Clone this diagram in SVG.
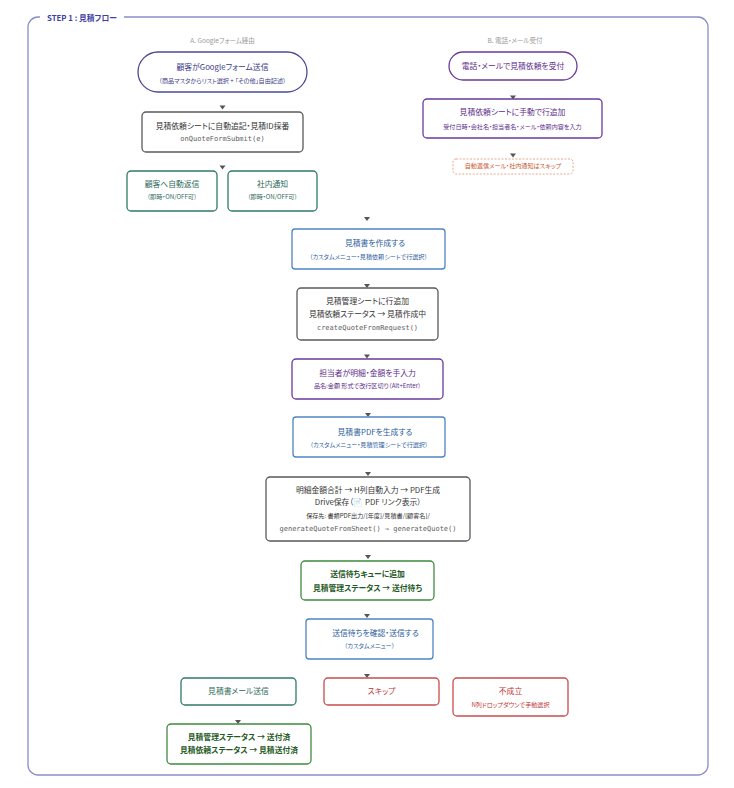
<svg xmlns="http://www.w3.org/2000/svg" width="734" height="788" viewBox="0 0 734 788">
<style>
text{font-family:"Noto Sans CJK JP","Noto Sans",sans-serif;text-anchor:middle;font-feature-settings:"palt"}
.m{font-size:7.8px}
.s{font-size:6.1px}
.mono{font-family:"DejaVu Sans Mono","Liberation Mono",monospace;font-size:7px;fill:#5e5e5e;font-feature-settings:normal}
.lbl{font-size:6.5px;fill:#9a9a9a}
.b{stroke-width:1.3;fill:#fff}
.indigo{stroke:#4b4b96}.indigoT{fill:#3b3b88}
.gray{stroke:#5a5a5a}.grayT{fill:#333}
.teal{stroke:#2f7a68}.tealT{fill:#2c6a5a}
.purple{stroke:#6b3a9c}.purpleT{fill:#5b2d8c}
.blue{stroke:#4f84c4}.blueT{fill:#2d5d9d}
.green{stroke:#3f8a3f}.greenT{fill:#1f5a1f;font-weight:bold}
.red{stroke:#c94c4c}.redT{fill:#c03434}
.orange{stroke:#e3a183;stroke-dasharray:2 1.5;stroke-width:0.9}.orangeT{fill:#c8552a}
.arr{fill:#555}
</style>
<rect x="28" y="17" width="680" height="758" rx="10" fill="#fff" stroke="#8a8ec8" stroke-width="1.3"/>
<rect x="40" y="12" width="84" height="10" fill="#fff"/>
<text x="47" y="20.5" style="text-anchor:start;font-size:7.8px;font-weight:bold;fill:#3f3f9f">STEP 1 : 見積フロー</text>
<text class="lbl" x="222.5" y="42.5">A. Googleフォーム経由</text>
<text class="lbl" x="515" y="42.5">B. 電話・メール受付</text>

<g id="connectors">
<polygon class="arr" points="219.5,105.5 225.5,105.5 222.5,109.5"/>
<polygon class="arr" points="219.5,165.5 225.5,165.5 222.5,169.5"/>
<polygon class="arr" points="510,95.5 516,95.5 513,99.5"/>
<polygon class="arr" points="510,153.5 516,153.5 513,157.5"/>
<polygon class="arr" points="364,217 370,217 367,221"/>
<polygon class="arr" points="364,284 370,284 367,288"/>
<polygon class="arr" points="364,354.5 370,354.5 367,358.5"/>
<polygon class="arr" points="365,413 371,413 368,417"/>
<polygon class="arr" points="365,472 371,472 368,476"/>
<polygon class="arr" points="365,555 371,555 368,559"/>
<polygon class="arr" points="364,614 370,614 367,618"/>
<polygon class="arr" points="364,674 370,674 367,678"/>
<polygon class="arr" points="235,720 241,720 238,724"/>
</g>

<g id="form-submit">
<rect class="b indigo" x="138" y="52" width="169" height="40" rx="20"/>
<text class="m indigoT" x="222.5" y="69.5">顧客がGoogleフォーム送信</text>
<text class="s indigoT" x="222.5" y="82.7">（商品マスタからリスト選択 + 「その他」自由記述）</text>
</g>
<g id="auto-append">
<rect class="b gray" x="142" y="112" width="161" height="40" rx="4"/>
<text class="m grayT" x="222.5" y="128.7">見積依頼シートに自動追記・見積ID採番</text>
<text class="mono" x="222.5" y="140.8">onQuoteFormSubmit(e)</text>
</g>
<g id="auto-reply">
<rect class="b teal" x="127" y="171" width="90" height="40" rx="4"/>
<text class="m tealT" x="172" y="186.7">顧客へ自動返信</text>
<text class="s tealT" x="172" y="199.2">（即時・ON/OFF可）</text>
</g>
<g id="internal-notice">
<rect class="b teal" x="228" y="171" width="89" height="40" rx="4"/>
<text class="m tealT" x="272.5" y="186.7">社内通知</text>
<text class="s tealT" x="272.5" y="199.2">（即時・ON/OFF可）</text>
</g>

<g id="phone-mail">
<rect class="b purple" x="449" y="52" width="128" height="28" rx="14"/>
<text class="m purpleT" x="513" y="68.7">電話・メールで見積依頼を受付</text>
</g>
<g id="manual-add">
<rect class="b purple" x="423" y="99" width="179" height="39" rx="4"/>
<text class="m purpleT" x="512.5" y="115.4">見積依頼シートに手動で行追加</text>
<text class="s purpleT" x="512.5" y="128.7">受付日時・会社名・担当者名・メール・依頼内容を入力</text>
</g>
<g id="skip-notice">
<rect class="orange" fill="#fff" x="453" y="159" width="120" height="15" rx="3"/>
<text class="s orangeT" x="513" y="168">自動返信メール・社内通知はスキップ</text>
</g>

<g id="create-quote">
<rect class="b blue" x="292" y="229" width="153" height="40" rx="3"/>
<text class="m blueT" x="375" y="246">見積書を作成する</text>
<text class="s blueT" x="368.5" y="258.7">（カスタムメニュー・見積依頼シートで行選択）</text>
</g>
<g id="add-row">
<rect class="b gray" x="297" y="288" width="141" height="52" rx="4"/>
<text class="m grayT" x="367.5" y="303.7">見積管理シートに行追加</text>
<text class="m grayT" x="367.5" y="316.7">見積依頼ステータス → 見積作成中</text>
<text class="mono" x="367.5" y="329.8">createQuoteFromRequest()</text>
</g>
<g id="manual-input">
<rect class="b purple" x="292" y="359" width="151" height="40" rx="4"/>
<text class="m purpleT" x="367.5" y="376">担当者が明細・金額を手入力</text>
<text class="s purpleT" x="367.5" y="388.2">品名:金額 形式で改行区切り（Alt+Enter）</text>
</g>
<g id="create-pdf">
<rect class="b blue" x="293" y="417" width="152" height="40" rx="3"/>
<text class="m blueT" x="375" y="435">見積書PDFを生成する</text>
<text class="s blueT" x="369" y="447.2">（カスタムメニュー・見積管理シートで行選択）</text>
</g>
<g id="pdf-process">
<rect class="b gray" x="266" y="477" width="204" height="64" rx="4"/>
<text class="m grayT" x="368" y="493.4">明細金額合計 → H列自動入力 → PDF生成</text>
<text class="m grayT" x="368" y="505">Drive保存（📄 PDF リンク表示）</text>
<text class="s grayT" x="368" y="518.4">保存先: 書類PDF出力/{年度}/見積書/{顧客名}/</text>
<text class="mono" x="368" y="530.8">generateQuoteFromSheet() → generateQuote()</text>
</g>
<g id="queue">
<rect class="b green" x="301" y="561" width="133" height="39" rx="4"/>
<text class="m greenT" x="367.5" y="576.7">送信待ちキューに追加</text>
<text class="m greenT" x="367.5" y="590.7">見積管理ステータス → 送付待ち</text>
</g>
<g id="confirm-send">
<rect class="b blue" x="306" y="619" width="127" height="40" rx="3"/>
<text class="m blueT" x="375.5" y="636">送信待ちを確認・送信する</text>
<text class="s blueT" x="369.5" y="647.9">（カスタムメニュー）</text>
</g>
<g id="send-mail">
<rect class="b teal" x="181" y="678" width="115" height="27" rx="4"/>
<text class="m tealT" x="238.5" y="694.4">見積書メール送信</text>
</g>
<g id="skip">
<rect class="b red" x="324" y="678" width="115" height="27" rx="4"/>
<text class="m redT" x="381.5" y="694.4">スキップ</text>
</g>
<g id="failed">
<rect class="b red" x="453" y="678" width="115" height="38" rx="4"/>
<text class="m redT" x="510.5" y="694">不成立</text>
<text class="s redT" x="510.5" y="707.4">N列ドロップダウンで手動選択</text>
</g>
<g id="sent">
<rect class="b green" x="167" y="724" width="144" height="40" rx="4"/>
<text class="m greenT" x="239" y="740.4">見積管理ステータス → 送付済</text>
<text class="m greenT" x="239" y="752.9">見積依頼ステータス → 見積送付済</text>
</g>
</svg>
